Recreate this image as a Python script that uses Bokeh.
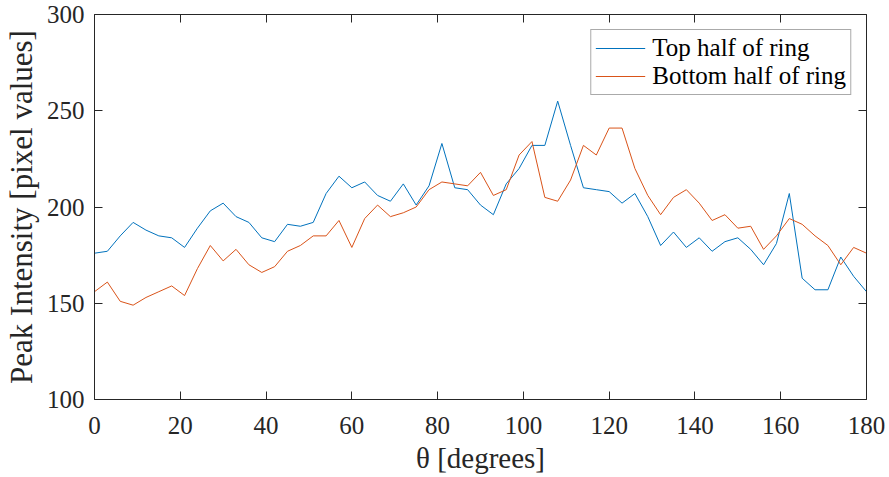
from bokeh.plotting import figure
from bokeh.models import Range1d, LinearAxis, FixedTicker, Legend, LegendItem
from bokeh.embed import file_html
from bokeh.resources import INLINE

theta = list(range(0, 181, 3))
top_half = [176, 177, 185, 192, 188, 185, 184, 179, 189, 198, 202, 195, 192, 184, 182,
            191, 190, 192, 207, 216, 210, 213, 206, 203, 212, 201, 211, 233, 210, 209,
            201, 196, 212, 220, 232, 232, 255, 232, 210, 209, 208, 202, 207, 195, 180,
            187, 179, 184, 177, 182, 184, 178, 170, 181, 207, 163, 157, 157, 174, 164, 156]
bottom_half = [156, 161, 151, 149, 153, 156, 159, 154, 168, 180, 172, 178, 170, 166, 169,
               177, 180, 185, 185, 193, 179, 194, 201, 195, 197, 200, 209, 213, 212, 211,
               218, 206, 209, 227, 234, 205, 203, 214, 232, 227, 241, 241, 220, 206, 196,
               205, 209, 202, 193, 196, 189, 190, 178, 185, 194, 191, 185, 180, 170, 179, 176]
x_ticks = [0, 20, 40, 60, 80, 100, 120, 140, 160, 180]
y_ticks = [100, 150, 200, 250, 300]
series_names = ["Top half of ring", "Bottom half of ring"]

FONT = "Liberation Serif"
AX = "#262626"

p = figure(width=888, height=476, output_backend="svg", toolbar_location=None,
           x_range=Range1d(0, 180), y_range=Range1d(100, 300),
           min_border_left=91, min_border_right=22, min_border_top=14, min_border_bottom=77)
p.xgrid.visible = False
p.ygrid.visible = False
p.outline_line_color = None
p.background_fill_color = "white"
p.border_fill_color = "white"

r1 = p.line(theta, top_half, line_color="#0072BD", line_width=1)
r2 = p.line(theta, bottom_half, line_color="#D95319", line_width=1)

def style(ax, ticks, labels=True):
    ax.ticker = FixedTicker(ticks=ticks)
    ax.axis_line_color = AX
    ax.axis_line_width = 1
    ax.major_tick_line_color = AX
    ax.major_tick_in = 8
    ax.major_tick_out = 0
    ax.minor_tick_line_color = None
    if labels:
        ax.major_label_text_font = FONT
        ax.major_label_text_font_size = "25px"
        ax.major_label_text_color = AX
        ax.axis_label_text_font = FONT
        ax.axis_label_text_font_size = "29px"
        ax.axis_label_text_font_style = "normal"
        ax.axis_label_text_color = AX
    else:
        ax.major_label_text_font_size = "0px"
        ax.major_label_text_color = None
        ax.major_label_standoff = 0

style(p.xaxis[0], x_ticks)
style(p.yaxis[0], y_ticks)
p.xaxis[0].axis_label = "θ [degrees]"
p.yaxis[0].axis_label = "Peak Intensity [pixel values]"
p.yaxis[0].axis_label_text_font_size = "31px"
p.xaxis[0].major_label_standoff = 17
p.yaxis[0].major_label_standoff = 10
p.xaxis[0].axis_label_standoff = 5
p.yaxis[0].axis_label_standoff = 5

top_ax = LinearAxis()
style(top_ax, x_ticks, labels=False)
p.add_layout(top_ax, "above")
right_ax = LinearAxis()
style(right_ax, y_ticks, labels=False)
p.add_layout(right_ax, "right")

legend = Legend(items=[LegendItem(label=series_names[0], renderers=[r1]),
                       LegendItem(label=series_names[1], renderers=[r2])],
                location="top_right", margin=15, padding=4, spacing=0,
                glyph_width=50, glyph_height=28, label_height=28, label_standoff=7,
                label_text_font=FONT, label_text_font_size="25px",
                label_text_color="black",
                border_line_color="#555555", border_line_width=1,
                background_fill_color="white", background_fill_alpha=1)
p.add_layout(legend)

open("out.html", "w").write(file_html(p, INLINE))
